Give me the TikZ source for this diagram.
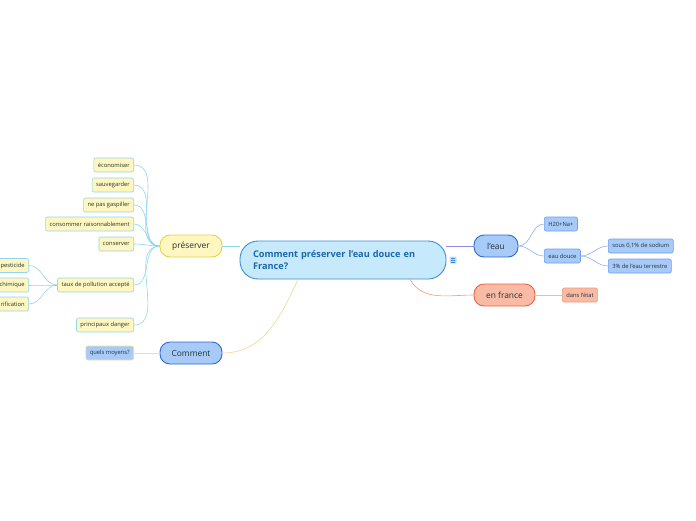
\documentclass[tikz,border=0pt]{standalone}
\usepackage{fontspec}
\setmainfont{Open Sans}
\usepackage{xcolor}
\definecolor{colRootFill}{HTML}{C6EAFB}
\definecolor{colRootLine}{HTML}{3A8ED2}
\definecolor{colRootText}{HTML}{1B67AE}
\definecolor{colYellow}{HTML}{FFF6C0}
\definecolor{colYellowLine}{HTML}{E6D24A}
\definecolor{colBlue}{HTML}{A8CAF9}
\definecolor{colBlueLine}{HTML}{2C6BD2}
\definecolor{colBlueLeaf}{HTML}{6E9EEA}
\definecolor{colRed}{HTML}{F9BBA5}
\definecolor{colRedLine}{HTML}{E8643C}
\definecolor{colRedLeaf}{HTML}{F29878}
\definecolor{colSky}{HTML}{8FD6F2}
\definecolor{colInk}{HTML}{1E3535}
\definecolor{colViolet}{HTML}{8C8CE6}
\usetikzlibrary{positioning}

\begin{document}
\begin{tikzpicture}[
		x=1pt, y=-1pt,
		every node/.style={font=\fontsize{5.8}{7}\selectfont, text=colInk},
		mainbox/.style={draw, rounded corners=10pt, line width=0.9pt,
		      minimum height=22pt, inner sep=2pt, font=\fontsize{8.4}{10}\selectfont},
		leafbox/.style={draw, rounded corners=2pt, line width=0.6pt,
		      minimum height=14pt, inner xsep=4pt, inner ysep=2.5pt},
		yleaf/.style={leafbox, fill=colYellow, draw=colSky},
		bleaf/.style={leafbox, fill=colBlue, draw=colBlueLeaf},
		rleaf/.style={leafbox, fill=colRed, draw=colRedLeaf},
		link/.style={line width=0.6pt}
	]
	\useasboundingbox (0,0) rectangle (696,520);
	\clip (0,0) rectangle (696,520);

	% racine
	\node[draw=colRootLine, fill=colRootFill, rounded corners=18pt, line width=0.9pt,
	      minimum width=206pt, minimum height=38pt, text width=180pt, align=left,
	      font=\fontsize{9.2}{12}\selectfont\bfseries, text=colRootText]
	     (root) at (343,260) {Comment préserver l'eau douce en\\France?};
	\node[fill=colBlue!70, rounded corners=1pt, minimum size=7pt, inner sep=0pt]
	     (note) at (453,260) {};
	\foreach \dy in {-1.8,0,1.8}
		\draw[colRootLine, line width=0.5pt] ([xshift=-2pt,yshift=\dy pt]note.center) -- ([xshift=2pt,yshift=\dy pt]note.center);

	% branches principales
	\node[mainbox, fill=colYellow, draw=colYellowLine, minimum width=62pt] (pres) at (191,246) {préserver};
	\node[mainbox, fill=colBlue, draw=colBlueLine, minimum width=62pt] (comm) at (191,353) {Comment};
	\node[mainbox, fill=colBlue, draw=colBlueLine, minimum width=44pt] (eau) at (496,246) {l'eau};
	\node[mainbox, fill=colRed, draw=colRedLine, minimum width=61pt] (fra) at (504.5,295) {en france};

	% préserver
	\node[yleaf, anchor=east] (eco)  at (134,165) {économiser};
	\node[yleaf, anchor=east] (sauv) at (134,185) {sauvegarder};
	\node[yleaf, anchor=east] (gasp) at (134,205) {ne pas gaspiller};
	\node[yleaf, anchor=east] (cons) at (134,224) {consommer raisonnablement};
	\node[yleaf, anchor=east] (csv)  at (134,244) {conserver};
	\node[yleaf, anchor=east] (taux) at (134,285) {taux de pollution accepté};
	\node[yleaf, anchor=east] (dang) at (134,325) {principaux danger};
	\node[yleaf, anchor=east, text width=40pt, align=right] (pest) at (29,265.5) {pesticide};
	\node[yleaf, anchor=east, text width=40pt, align=right] (chim) at (29,285) {chimique};
	\node[yleaf, anchor=east, text width=40pt, align=right] (puri) at (29,304) {rification};

	% Comment
	\node[bleaf, draw=colYellowLine!60, anchor=east] (moy) at (134,353) {quels moyens?};

	% l'eau
	\node[bleaf, anchor=west] (h2o)  at (544,224) {H20+Na+};
	\node[bleaf, anchor=west] (douc) at (544,256) {eau douce};
	\node[bleaf, anchor=west] (sod)  at (608,246) {sous 0,1\% de sodium};
	\node[bleaf, anchor=west] (terr) at (608,266) {3\% de l'eau terrestre};

	% en france
	\node[rleaf, anchor=west] (etat) at (562,295) {dans l'état};

	% liens
	\draw[link, colSky] (root.west |- pres.east) -- (pres.east);
	\draw[link, colViolet] (root.east |- eau.west) -- (eau.west);
	\draw[link, colRedLeaf] ([xshift=67pt]root.south) to[out=-60,in=180] (fra.west);
	\draw[link, colYellowLine!70!orange!60] ([xshift=-45pt]root.south) to[out=-115,in=0] (comm.east);
	\foreach \n in {eco,sauv,gasp,cons,csv,taux,dang}
		\draw[link, colSky] (pres.west) to[out=180,in=0] (\n.east);
	\foreach \n in {pest,chim,puri}
		\draw[link, colSky] (taux.west) to[out=180,in=0] (\n.east);
	\draw[link, colYellowLine!60] (comm.west) -- (moy.east);
	\foreach \n in {h2o,douc}
		\draw[link, colBlueLeaf!80] (eau.east) to[out=0,in=180] (\n.west);
	\foreach \n in {sod,terr}
		\draw[link, colBlueLeaf!80] (douc.east) to[out=0,in=180] (\n.west);
	\draw[link, colRedLeaf!70] (fra.east) -- (etat.west);
\end{tikzpicture}
\end{document}
